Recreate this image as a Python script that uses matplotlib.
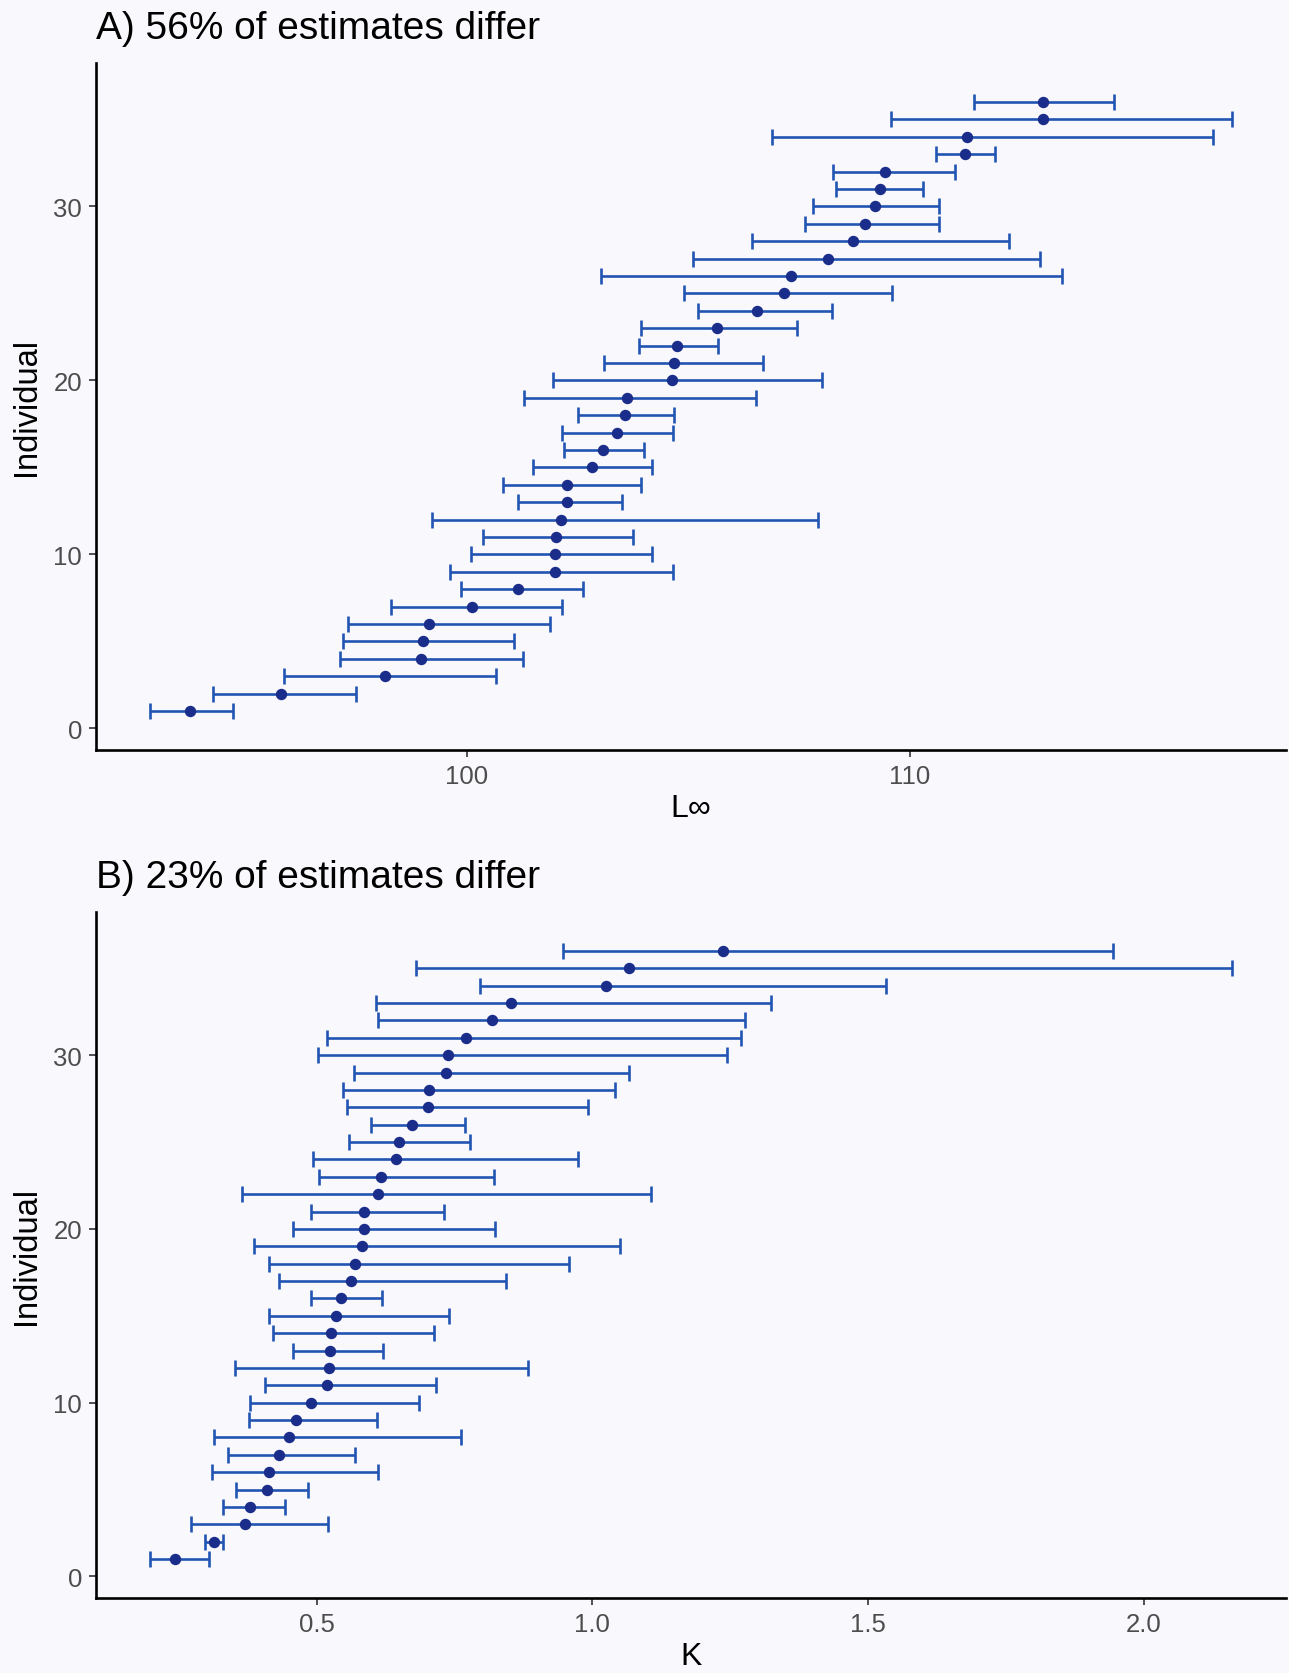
import numpy as np
import matplotlib
matplotlib.use("Agg")
import matplotlib.pyplot as plt

plt.rcParams['font.family'] = ['Liberation Sans', 'DejaVu Sans']

# individual number (sorted by estimate)
individual = np.arange(1, 37)

# panel A: L-infinity estimate with lower / upper interval
linf = [93.77, 95.82, 98.17, 98.97, 99.01, 99.16, 100.12, 101.15, 101.99, 101.99,
        102.02, 102.14, 102.26, 102.26, 102.84, 103.08, 103.39, 103.58, 103.61, 104.64,
        104.69, 104.76, 105.65, 106.56, 107.16, 107.33, 108.15, 108.73, 108.99, 109.21,
        109.33, 109.45, 111.25, 111.30, 113.00, 113.00]
linf_lo = [92.86, 94.28, 95.87, 97.14, 97.21, 97.33, 98.29, 99.88, 99.62, 100.10,
           100.38, 99.23, 101.15, 100.82, 101.49, 102.19, 102.16, 102.52, 101.30, 101.95,
           103.10, 103.89, 103.94, 105.22, 104.90, 103.03, 105.12, 106.44, 107.64, 107.81,
           108.34, 108.27, 110.60, 106.90, 109.57, 111.44]
linf_hi = [94.74, 97.50, 100.67, 101.27, 101.06, 101.88, 102.16, 102.62, 104.66, 104.18,
           103.75, 107.93, 103.51, 103.94, 104.18, 104.01, 104.66, 104.69, 106.54, 108.03,
           106.68, 105.67, 107.45, 108.25, 109.59, 113.44, 112.93, 112.24, 110.65, 110.65,
           110.29, 111.03, 111.92, 116.85, 117.28, 114.62]

# panel B: K estimate with lower / upper interval
k = [0.244, 0.314, 0.370, 0.379, 0.410, 0.414, 0.431, 0.449, 0.462, 0.490,
     0.518, 0.522, 0.524, 0.526, 0.535, 0.545, 0.562, 0.570, 0.582, 0.586,
     0.586, 0.611, 0.617, 0.644, 0.650, 0.673, 0.702, 0.704, 0.735, 0.739,
     0.771, 0.818, 0.852, 1.024, 1.067, 1.237]
k_lo = [0.198, 0.298, 0.273, 0.331, 0.354, 0.310, 0.339, 0.313, 0.377, 0.380,
        0.406, 0.352, 0.458, 0.420, 0.413, 0.489, 0.431, 0.414, 0.386, 0.458,
        0.489, 0.364, 0.505, 0.493, 0.559, 0.598, 0.555, 0.547, 0.567, 0.503,
        0.518, 0.611, 0.607, 0.796, 0.680, 0.947]
k_hi = [0.304, 0.331, 0.520, 0.443, 0.484, 0.611, 0.569, 0.762, 0.609, 0.686,
        0.717, 0.883, 0.620, 0.713, 0.740, 0.618, 0.844, 0.957, 1.051, 0.823,
        0.731, 1.107, 0.821, 0.974, 0.779, 0.769, 0.993, 1.041, 1.066, 1.244,
        1.269, 1.277, 1.325, 1.532, 2.161, 1.945]

panels = [
    ("A) 56% of estimates differ", "L\u221e", linf, linf_lo, linf_hi, [100, 110], ["100", "110"]),
    ("B) 23% of estimates differ", "K", k, k_lo, k_hi, [0.5, 1.0, 1.5, 2.0], ["0.5", "1.0", "1.5", "2.0"]),
]

bg = "#f9f9fd"
bar_col = "#2254b2"
pt_col = "#1b2d8b"

fig = plt.figure(figsize=(12.89, 16.74), dpi=100, facecolor=bg)
boxes = [[0.0745, 0.5514, 0.9235, 0.4104], [0.0745, 0.0448, 0.9235, 0.4098]]

for box, (title, xlab, est, lo, hi, ticks, ticklabels) in zip(boxes, panels):
    ax = fig.add_axes(box, facecolor=bg)
    est = np.array(est)
    err = [est - np.array(lo), np.array(hi) - est]
    ax.errorbar(est, individual, xerr=err, fmt='none', ecolor=bar_col,
                elinewidth=1.9, capsize=5.6, capthick=1.9)
    ax.plot(est, individual, 'o', color=pt_col, markersize=7.2)

    xmin, xmax = min(lo), max(hi)
    pad = 0.05 * (xmax - xmin)
    ax.set_xlim(xmin - pad, xmax + pad)
    ax.set_ylim(0.55 - 0.05 * 35.9, 36.45 + 0.05 * 35.9)
    ax.set_xticks(ticks)
    ax.set_xticklabels(ticklabels)
    ax.set_yticks([0, 10, 20, 30])

    for s in ['top', 'right']:
        ax.spines[s].set_visible(False)
    for s in ['left', 'bottom']:
        ax.spines[s].set_linewidth(1.9)
        ax.spines[s].set_color('black')
    ax.tick_params(length=5, width=1.2, color='#333333', labelsize=18.5,
                   labelcolor='#4d4d4d', pad=5)

    ax.set_xlabel(xlab, fontsize=23, labelpad=4)
    ax.set_ylabel("Individual", fontsize=23.5, labelpad=8)
    ax.set_title(title, loc='left', fontsize=28, pad=18)

fig.savefig("out.png", dpi=100, facecolor=bg)
